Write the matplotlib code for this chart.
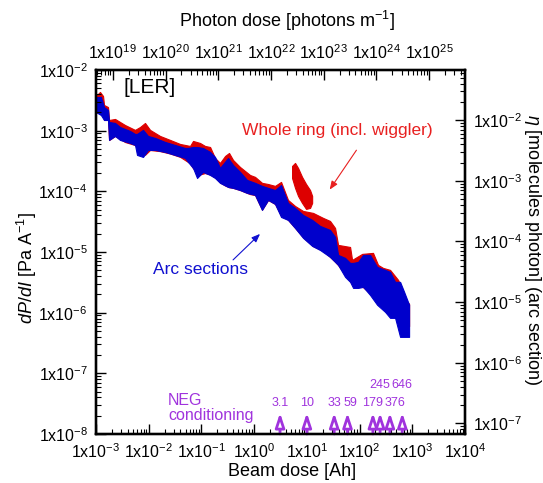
import numpy as np
import matplotlib
matplotlib.use('Agg')
import matplotlib.pyplot as plt
from matplotlib.ticker import FuncFormatter, FixedLocator, LogLocator, NullFormatter

plt.rcParams['font.family'] = ['Liberation Sans', 'DejaVu Sans']
plt.rcParams['mathtext.fontset'] = 'custom'
plt.rcParams['mathtext.rm'] = 'Liberation Sans'
plt.rcParams['mathtext.it'] = 'Liberation Sans:italic'
plt.rcParams['mathtext.default'] = 'regular'

# Arc sections (blue band): beam dose [Ah], upper / lower edge of dP/dI [Pa/A]
arc_dose = [1.00e-3, 1.24e-3, 1.42e-3, 1.69e-3, 1.77e-3, 2.30e-3, 2.85e-3, 4.42e-3,
            5.50e-3, 6.00e-3, 7.80e-3, 9.70e-3, 1.32e-2, 2.04e-2, 3.15e-2, 4.89e-2,
            5.57e-2, 6.93e-2, 8.26e-2, 0.107, 0.146, 0.181, 0.225, 0.320, 0.398,
            0.540, 0.733, 1.04, 1.41, 1.84, 2.49, 3.24, 4.39, 5.97, 8.47, 12.6,
            17.8, 27.5, 34.3, 39.1, 53.1, 66.1, 75.4, 93.8, 117, 158, 215, 305,
            379, 472, 587, 700, 870]
arc_hi = [3.59e-3, 3.59e-3, 2.45e-3, 2.19e-3, 1.39e-3, 1.34e-3, 1.15e-3, 9.89e-4,
          8.83e-4, 8.83e-4, 1.03e-3, 8.18e-4, 7.59e-4, 6.52e-4, 5.81e-4, 5.19e-4,
          5.19e-4, 5.38e-4, 5.38e-4, 5.19e-4, 4.46e-4, 3.69e-4, 2.43e-4, 3.55e-4, 2.72e-4,
          2.09e-4, 1.54e-4, 1.38e-4, 1.23e-4, 1.14e-4, 1.05e-4, 1.27e-4, 6.44e-5, 5.33e-5,
          4.08e-5, 3.38e-5, 2.69e-5, 2.31e-5, 1.77e-5, 8.96e-6, 8.00e-6, 6.61e-6, 6.61e-6,
          6.87e-6, 8.96e-6, 8.96e-6, 5.68e-6, 5.07e-6, 4.70e-6, 3.22e-6, 3.22e-6, 2.20e-6,
          1.35e-6]
arc_lo = [2.03e-3, 1.81e-3, 1.50e-3, 1.50e-3, 7.04e-4, 8.18e-4, 7.04e-4, 6.27e-4,
          5.81e-4, 3.98e-4, 3.69e-4, 4.81e-4, 4.81e-4, 4.46e-4, 3.98e-4, 3.55e-4,
          3.05e-4, 2.43e-4, 1.66e-4, 2.09e-4, 1.86e-4, 1.66e-4, 1.38e-4, 1.18e-4, 1.14e-4,
          1.05e-4, 9.41e-5, 8.73e-5, 4.94e-5, 7.22e-5, 6.20e-5, 3.78e-5, 3.38e-5, 2.49e-5,
          1.71e-5, 1.26e-5, 1.08e-5, 8.30e-6, 6.87e-6, 6.13e-6, 3.89e-6, 3.22e-6, 2.56e-6,
          2.56e-6, 2.66e-6, 1.96e-6, 1.35e-6, 1.03e-6, 8.21e-7, 8.21e-7, 3.99e-7, 3.99e-7,
          3.99e-7]

# Whole ring incl. wiggler (red band)
ring_dose = [1.00e-3, 1.19e-3, 1.36e-3, 1.42e-3, 1.69e-3, 1.77e-3, 2.30e-3, 3.55e-3,
             5.50e-3, 6.85e-3, 8.51e-3, 1.06e-2, 1.64e-2, 2.54e-2, 3.93e-2, 6.08e-2,
             6.93e-2, 9.40e-2, 0.117, 0.146, 0.181, 0.225, 0.281, 0.334, 0.398, 0.540,
             0.836, 1.04, 1.41, 1.84, 2.49, 3.24, 4.39, 5.97, 8.47, 13.1, 20.3, 27.5,
             34.3, 39.1, 66.1, 72.1, 112, 180, 224, 279, 379, 538, 641, 798, 870]
ring_hi = [3.73e-3, 4.35e-3, 3.73e-3, 2.65e-3, 2.45e-3, 1.50e-3, 1.56e-3, 1.24e-3,
           1.03e-3, 1.15e-3, 1.34e-3, 1.03e-3, 8.18e-4, 7.04e-4, 6.04e-4, 5.60e-4,
           6.77e-4, 6.27e-4, 5.60e-4, 5.38e-4, 3.55e-4, 2.94e-4, 3.83e-4, 4.29e-4, 3.29e-4,
           2.52e-4, 1.86e-4, 1.73e-4, 1.38e-4, 1.32e-4, 1.23e-4, 1.43e-4, 7.22e-5, 5.74e-5,
           4.75e-5, 4.41e-5, 3.65e-5, 3.25e-5, 2.49e-5, 1.31e-5, 1.21e-5, 7.41e-6, 9.31e-6,
           9.67e-6, 6.13e-6, 5.47e-6, 5.07e-6, 3.47e-6, 2.47e-6, 1.51e-6, 1.40e-6]
ring_lo = [2.03e-3, 1.90e-3, 1.80e-3, 1.50e-3, 1.50e-3, 7.0e-4, 8.2e-4, 6.5e-4,
           5.8e-4, 4.5e-4, 4.0e-4, 4.8e-4, 4.6e-4, 4.2e-4, 3.7e-4, 2.9e-4,
           2.4e-4, 1.9e-4, 2.0e-4, 1.9e-4, 1.7e-4, 1.4e-4, 1.25e-4, 1.17e-4, 1.14e-4,
           1.05e-4, 9.0e-5, 8.7e-5, 5.0e-5, 7.2e-5, 6.2e-5, 4.0e-5, 3.4e-5, 2.5e-5,
           1.75e-5, 1.25e-5, 1.05e-5, 8.3e-6, 6.9e-6, 6.1e-6, 3.3e-6, 3.0e-6, 2.7e-6,
           1.9e-6, 1.4e-6, 1.2e-6, 9.0e-7, 8.0e-7, 6.0e-7, 6.0e-7, 6.0e-7]

# Whole ring, separate high-pressure period
bump_dose = [5.24, 5.97, 6.81, 8.11, 9.66, 11.5, 12.6]
bump_hi = [2.62e-4, 2.94e-4, 2.43e-4, 1.73e-4, 1.32e-4, 1.05e-4, 8.40e-5]
bump_lo = [1.66e-4, 1.14e-4, 8.40e-5, 6.44e-5, 5.13e-5, 5.33e-5, 6.44e-5]

# NEG conditioning
neg_dose = [3.1, 10, 33, 59, 179, 245, 376, 646]
neg_label = ['3.1', '10', '33', '59', '179', '245', '376', '646']
neg_row = [0, 0, 0, 0, 0, 1, 0, 1]

# decade ticks of each axis
beam_ticks = [1e-3, 1e-2, 1e-1, 1e0, 1e1, 1e2, 1e3, 1e4]
dpdi_ticks = [1e-8, 1e-7, 1e-6, 1e-5, 1e-4, 1e-3, 1e-2]
photon_ticks = [1e19, 1e20, 1e21, 1e22, 1e23, 1e24, 1e25]
eta_ticks = [1e-7, 1e-6, 1e-5, 1e-4, 1e-3, 1e-2]

red = '#dd0000'
blue = '#0000cc'
purple = '#a033dd'

W, H = 543, 483
fig = plt.figure(figsize=(W / 100, H / 100), dpi=100)
ax = fig.add_axes([96 / W, 1 - 434 / H, 369 / W, 364 / H])

ax.fill_between(ring_dose, ring_lo, ring_hi, color=red, ec=red, lw=0.8)
ax.fill_between(bump_dose, bump_lo, bump_hi, color=red, ec=red, lw=0.8)
ax.fill_between(arc_dose, arc_lo, arc_hi, color=blue, ec=blue, lw=0.8)

ax.set_xscale('log')
ax.set_yscale('log')
ax.set_xlim(1e-3, 1e4)
ax.set_ylim(1e-8, 1e-2)

# top axis (photon dose) and right axis (eta)
axt = ax.twiny()
axt.set_xscale('log')
axt.set_xlim(4.8e18, 4.8e25)
axr = ax.twinx()
axr.set_yscale('log')
axr.set_ylim(6.7e-8, 6.7e-2)


def sci(v, pos):
    e = int(round(np.log10(v)))
    return f'1x10$^{{{e}}}$'


for axis, ticks in [(ax.xaxis, beam_ticks), (ax.yaxis, dpdi_ticks),
                    (axt.xaxis, photon_ticks), (axr.yaxis, eta_ticks)]:
    axis.set_major_locator(FixedLocator(ticks))
    axis.set_minor_locator(LogLocator(base=10, subs=np.arange(2, 10), numticks=20))
    axis.set_major_formatter(FuncFormatter(sci))
    axis.set_minor_formatter(NullFormatter())

for a in (ax, axt, axr):
    a.tick_params(which='major', direction='in', length=7, width=1.0, labelsize=11.5)
    a.tick_params(which='minor', direction='in', length=3.5, width=0.8)
    for s in a.spines.values():
        s.set_linewidth(1.6)
ax.tick_params(axis='x', pad=6)
ax.tick_params(axis='y', pad=6)
axt.tick_params(axis='x', pad=6)
axr.tick_params(axis='y', pad=6)

fig.text(292 / W, 1 - 472 / H, 'Beam dose [Ah]', ha='center', va='center', fontsize=13)
fig.text(287 / W, 1 - 21 / H, 'Photon dose [photons m$^{-1}$]', ha='center', va='center', fontsize=13)
fig.text(27 / W, 1 - 268 / H, r'$\mathit{dP/dI}$ [Pa A$^{-1}$]', ha='center', va='center',
         rotation=90, fontsize=13)
fig.text(532 / W, 1 - 250 / H, r'$\mathit{\eta}$ [molecules photon] (arc section)',
         ha='center', va='center', rotation=270, fontsize=13)

ax.text(0.146, 0.951, '[LER]', transform=ax.transAxes, ha='center', va='center', fontsize=15)
ax.text(0.653, 0.835, 'Whole ring (incl. wiggler)', transform=ax.transAxes, ha='center',
        va='center', fontsize=12.5, color='#e82020')
ax.annotate('', xy=(0.629, 0.665), xytext=(0.710, 0.786), xycoords='axes fraction',
            arrowprops=dict(arrowstyle='-|>,head_length=0.5,head_width=0.2', color='#e82020', lw=0.8))
ax.text(0.282, 0.451, 'Arc sections', transform=ax.transAxes, ha='center', va='center',
        fontsize=12.5, color='#1010d0')
ax.annotate('', xy=(0.450, 0.555), xytext=(0.366, 0.473), xycoords='axes fraction',
            arrowprops=dict(arrowstyle='-|>,head_length=0.5,head_width=0.2', color='#1010d0', lw=0.8))

ax.text(0.195, 0.071, 'NEG\nconditioning', transform=ax.transAxes, ha='left', va='center',
        fontsize=11.5, color=purple, linespacing=1.05)
for d, lab, row in zip(neg_dose, neg_label, neg_row):
    ax.annotate('', xy=(d, 2.23e-8), xytext=(d, 1e-8),
                arrowprops=dict(arrowstyle='-|>,head_length=0.85,head_width=0.28',
                                fc='white', ec=purple, lw=2, shrinkA=0, shrinkB=0))
    dx = 4 if lab == '376' else (2 if lab == '59' else 0)
    ax.annotate(lab, xy=(d, 3.27e-8 if row == 0 else 6.47e-8), xytext=(dx, 0),
                textcoords='offset points', ha='center', va='center', fontsize=9, color=purple)

fig.savefig('out.png', dpi=100)
